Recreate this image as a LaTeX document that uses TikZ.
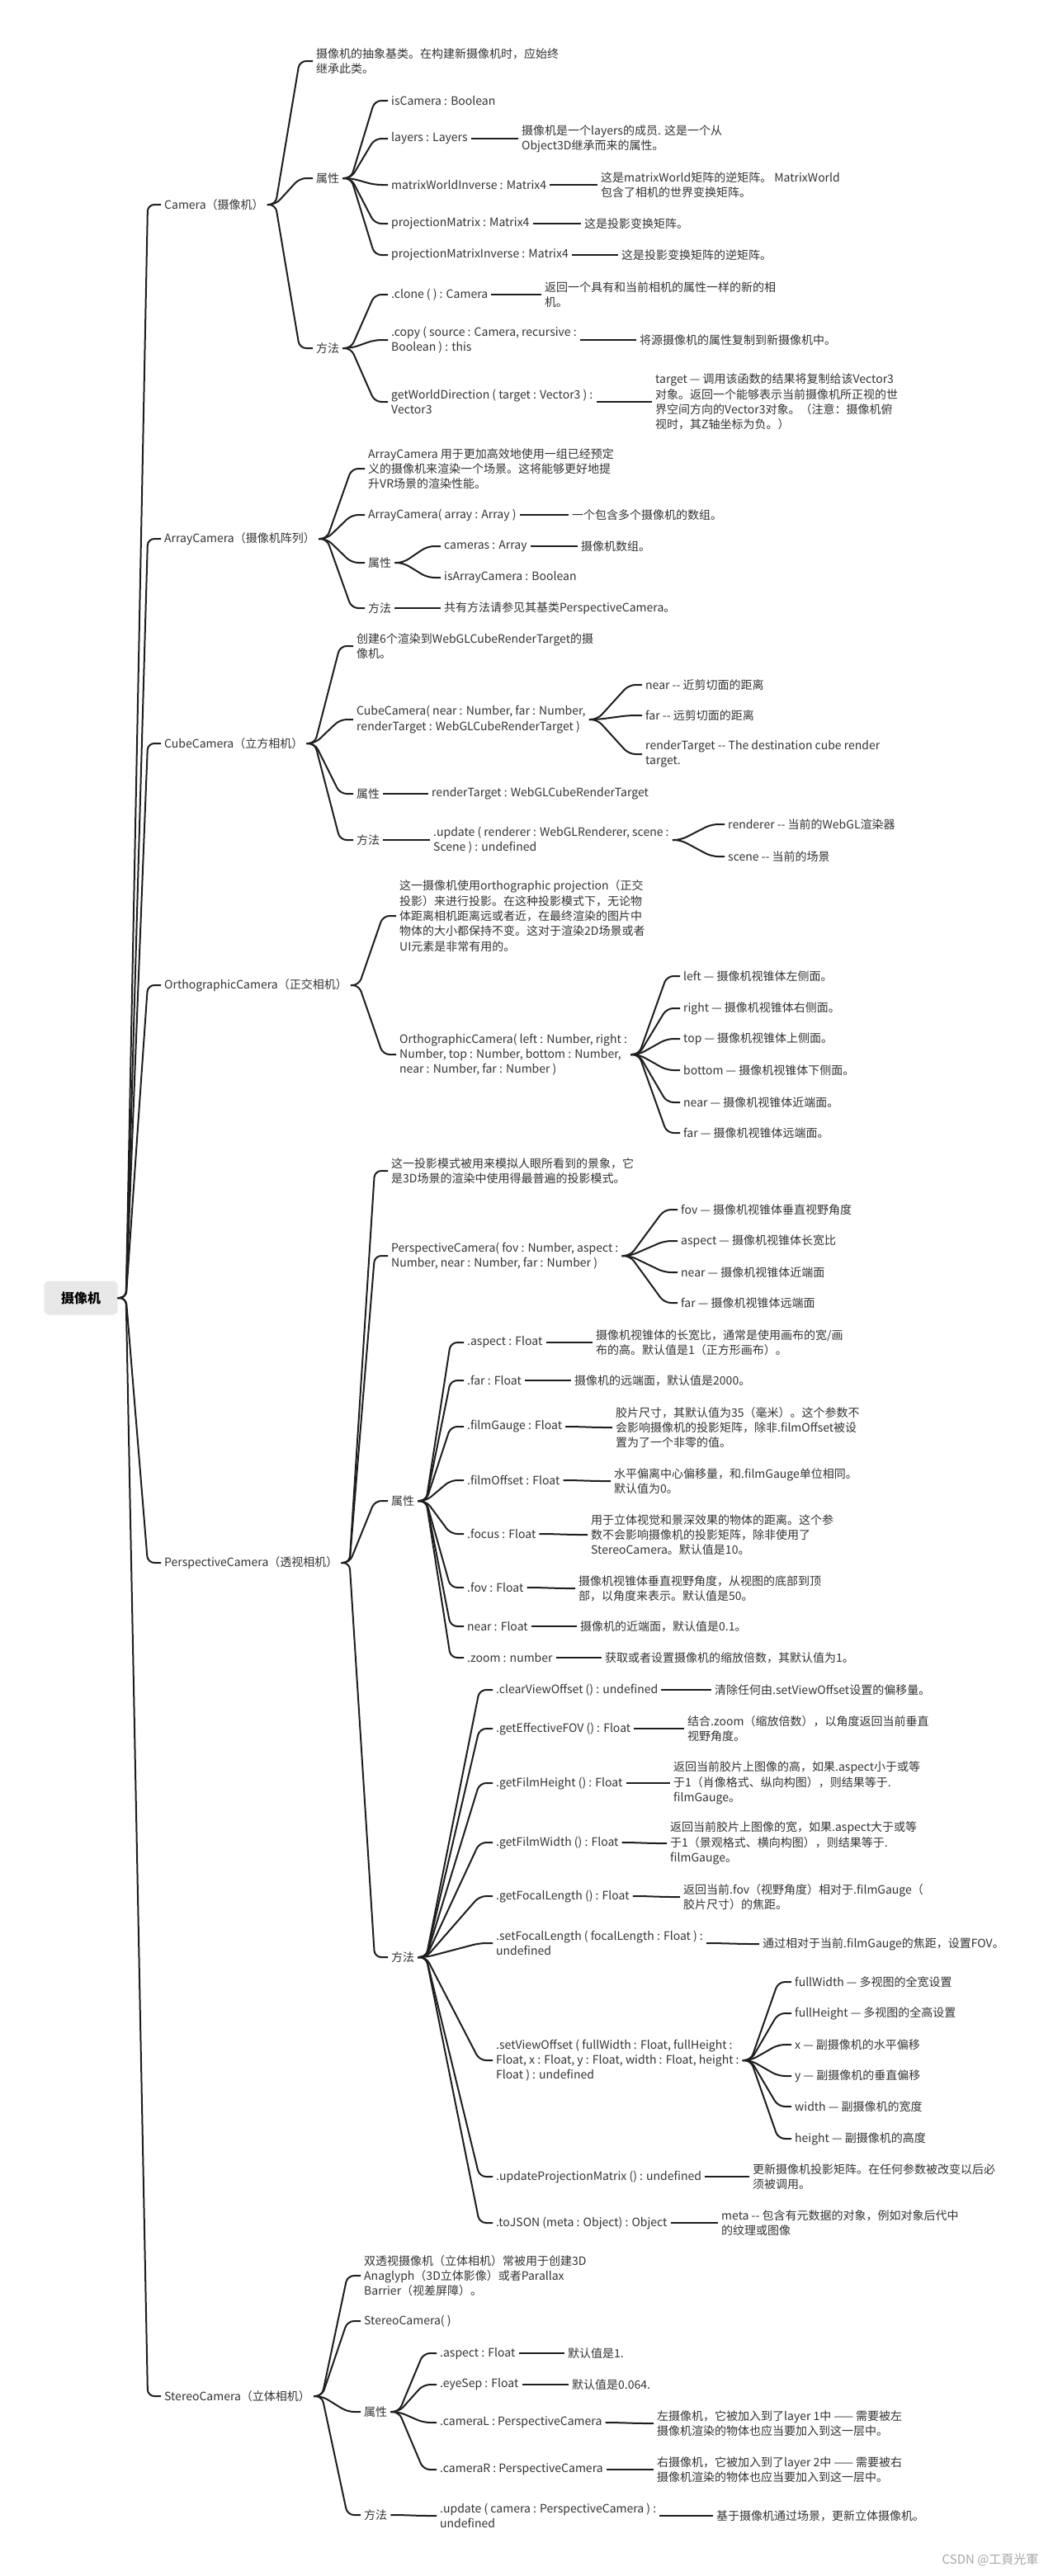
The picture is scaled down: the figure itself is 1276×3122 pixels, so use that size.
\documentclass[tikz,border=0pt]{standalone}
\usepackage{fontspec}
\setmainfont{Noto Sans CJK SC}
\usetikzlibrary{calc}
\definecolor{txt}{HTML}{333333}
\definecolor{ln}{HTML}{1E1E1E}
\tikzset{
 t/.style={anchor=west, xshift=-4pt, inner xsep=4pt, inner ysep=1pt, align=left, text=txt, font=\fontsize{14}{18.3}\selectfont},
 edge/.style={draw=ln, line width=2pt, rounded corners=8pt},
 rootbox/.style={fill=gray!18, rounded corners=6pt, minimum width=89pt, minimum height=41pt, font=\fontsize{16}{18}\selectfont\bfseries, text=black}
}
\newcommand\br[2]{\draw[edge] (#1.east) -- ++(10,0) -- ([xshift=-16pt]#2.west) -- (#2.west);}
\begin{document}
\begin{tikzpicture}[x=1pt,y=-1pt]
\useasboundingbox (0,0) rectangle (1276,3122);
\fill[white] (0,0) rectangle (1276,3122);
\node[rootbox] (root) at (98,1573) {摄像机};
% level 1
\node[t] (cam) at (199,248) {Camera（摄像机）};
\node[t] (arr) at (199,653) {ArrayCamera（摄像机阵列）};
\node[t] (cube) at (199,901) {CubeCamera（立方相机）};
\node[t] (orth) at (199,1194) {OrthographicCamera（正交相机）};
\node[t] (pers) at (199,1894) {PerspectiveCamera（透视相机）};
\node[t] (ster) at (199,2904) {StereoCamera（立体相机）};
\foreach \c in {cam,arr,cube,orth,pers,ster}{\br{root}{\c}}
% Camera
\node[t] (camd) at (383,74) {摄像机的抽象基类。在构建新摄像机时，应始终\\继承此类。};
\node[t] (camp) at (383,216) {属性};
\node[t] (camm) at (383,422) {方法};
\node[t] (isc) at (474,122) {isCamera : Boolean};
\node[t] (lay) at (474,168) {layers : Layers};
\node[t] (layd) at (632,168) {摄像机是一个layers的成员. 这是一个从\\Object3D继承而来的属性。};
\node[t] (mwi) at (474,224) {matrixWorldInverse : Matrix4};
\node[t] (mwid) at (728,224) {这是matrixWorld矩阵的逆矩阵。 MatrixWorld\\包含了相机的世界变换矩阵。};
\node[t] (pm) at (474,271) {projectionMatrix : Matrix4};
\node[t] (pmd) at (708,271) {这是投影变换矩阵。};
\node[t] (pmi) at (474,309) {projectionMatrixInverse : Matrix4};
\node[t] (pmid) at (753,309) {这是投影变换矩阵的逆矩阵。};
\node[t] (clo) at (474,357) {.clone ( ) : Camera};
\node[t] (clod) at (660,357) {返回一个具有和当前相机的属性一样的新的相\\机。};
\node[t] (cop) at (474,412) {.copy ( source : Camera, recursive :\\Boolean ) : this};
\node[t] (copd) at (775,412) {将源摄像机的属性复制到新摄像机中。};
\node[t] (gwd) at (474,487) {getWorldDirection ( target : Vector3 ) :\\Vector3};
\node[t] (gwdd) at (794,487) {target — 调用该函数的结果将复制给该Vector3\\对象。返回一个能够表示当前摄像机所正视的世\\界空间方向的Vector3对象。（注意：摄像机俯\\视时，其Z轴坐标为负。）};
\br{cam}{camd}\br{cam}{camp}\br{cam}{camm}
\br{camp}{isc}\br{camp}{lay}\br{camp}{mwi}\br{camp}{pm}\br{camp}{pmi}
\br{lay}{layd}\br{mwi}{mwid}\br{pm}{pmd}\br{pmi}{pmid}
\br{camm}{clo}\br{camm}{cop}\br{camm}{gwd}
\br{clo}{clod}\br{cop}{copd}\br{gwd}{gwdd}
% ArrayCamera
\node[t] (arrd) at (446,568) {ArrayCamera 用于更加高效地使用一组已经预定\\义的摄像机来渲染一个场景。这将能够更好地提\\升VR场景的渲染性能。};
\node[t] (arrc) at (446,624) {ArrayCamera( array : Array )};
\node[t] (arrcd) at (693,624) {一个包含多个摄像机的数组。};
\node[t] (arrp) at (446,682) {属性};
\node[t] (cams) at (538,662) {cameras : Array};
\node[t] (camsd) at (704,662) {摄像机数组。};
\node[t] (isa) at (538,700) {isArrayCamera : Boolean};
\node[t] (arrm) at (446,737) {方法};
\node[t] (arrmd) at (538,737) {共有方法请参见其基类PerspectiveCamera。};
\br{arr}{arrd}\br{arr}{arrc}\br{arr}{arrp}\br{arr}{arrm}
\br{arrc}{arrcd}\br{arrp}{cams}\br{arrp}{isa}\br{cams}{camsd}\br{arrm}{arrmd}
% CubeCamera
\node[t] (cubd) at (432,783) {创建6个渲染到WebGLCubeRenderTarget的摄\\像机。};
\node[t] (cubc) at (432,872) {CubeCamera( near : Number, far : Number,\\renderTarget : WebGLCubeRenderTarget )};
\node[t] (cn) at (782,830) {near -{}- 近剪切面的距离};
\node[t] (cf) at (782,867) {far -{}- 远剪切面的距离};
\node[t] (cr) at (782,914) {renderTarget -{}- The destination cube render\\target.};
\node[t] (cubp) at (432,962) {属性};
\node[t] (cubpr) at (523,962) {renderTarget : WebGLCubeRenderTarget};
\node[t] (cubm) at (432,1018) {方法};
\node[t] (cubu) at (525,1018) {.update ( renderer : WebGLRenderer, scene :\\Scene ) : undefined};
\node[t] (cur) at (882,999) {renderer -{}- 当前的WebGL渲染器};
\node[t] (cus) at (882,1038) {scene -{}- 当前的场景};
\br{cube}{cubd}\br{cube}{cubc}\br{cube}{cubp}\br{cube}{cubm}
\br{cubc}{cn}\br{cubc}{cf}\br{cubc}{cr}\br{cubp}{cubpr}\br{cubm}{cubu}
\br{cubu}{cur}\br{cubu}{cus}
% OrthographicCamera
\node[t] (ord) at (484,1110) {这一摄像机使用orthographic projection（正交\\投影）来进行投影。在这种投影模式下，无论物\\体距离相机距离远或者近，在最终渲染的图片中\\物体的大小都保持不变。这对于渲染2D场景或者\\UI元素是非常有用的。};
\node[t] (orc) at (484,1278) {OrthographicCamera( left : Number, right :\\Number, top : Number, bottom : Number,\\near : Number, far : Number )};
\node[t] (ol) at (828,1183) {left — 摄像机视锥体左侧面。};
\node[t] (orr) at (828,1222) {right — 摄像机视锥体右侧面。};
\node[t] (ot) at (828,1259) {top — 摄像机视锥体上侧面。};
\node[t] (ob) at (828,1297) {bottom — 摄像机视锥体下侧面。};
\node[t] (on) at (828,1336) {near — 摄像机视锥体近端面。};
\node[t] (of) at (828,1373) {far — 摄像机视锥体远端面。};
\br{orth}{ord}\br{orth}{orc}
\foreach \c in {ol,orr,ot,ob,on,of}{\br{orc}{\c}}
% PerspectiveCamera
\node[t] (ped) at (474,1419) {这一投影模式被用来模拟人眼所看到的景象，它\\是3D场景的渲染中使用得最普遍的投影模式。};
\node[t] (pec) at (474,1522) {PerspectiveCamera( fov : Number, aspect :\\Number, near : Number, far : Number )};
\node[t] (pf) at (825,1466) {fov — 摄像机视锥体垂直视野角度};
\node[t] (pa) at (825,1504) {aspect — 摄像机视锥体长宽比};
\node[t] (pn) at (825,1542) {near — 摄像机视锥体近端面};
\node[t] (pfa) at (825,1579) {far — 摄像机视锥体远端面};
\node[t] (pep) at (474,1819) {属性};
\node[t] (pasp) at (566,1627) {.aspect : Float};
\node[t] (paspd) at (722,1627) {摄像机视锥体的长宽比，通常是使用画布的宽/画\\布的高。默认值是1（正方形画布）。};
\node[t] (pfar) at (566,1673) {.far : Float};
\node[t] (pfard) at (696,1673) {摄像机的远端面，默认值是2000。};
\node[t] (pfg) at (566,1729) {.filmGauge : Float};
\node[t] (pfgd) at (746,1730) {胶片尺寸，其默认值为35（毫米）。这个参数不\\会影响摄像机的投影矩阵，除非.filmOffset被设\\置为了一个非零的值。};
\node[t] (pfo) at (566,1794) {.filmOffset : Float};
\node[t] (pfod) at (744,1795) {水平偏离中心偏移量，和.filmGauge单位相同。\\默认值为0。};
\node[t] (pfoc) at (566,1859) {.focus : Float};
\node[t] (pfocd) at (716,1860) {用于立体视觉和景深效果的物体的距离。这个参\\数不会影响摄像机的投影矩阵，除非使用了\\StereoCamera。默认值是10。};
\node[t] (pfov) at (566,1924) {.fov : Float};
\node[t] (pfovd) at (701,1925) {摄像机视锥体垂直视野角度，从视图的底部到顶\\部，以角度来表示。默认值是50。};
\node[t] (pnear) at (566,1971) {near : Float};
\node[t] (pneard) at (703,1971) {摄像机的近端面，默认值是0.1。};
\node[t] (pzoom) at (566,2009) {.zoom : number};
\node[t] (pzoomd) at (733,2009) {获取或者设置摄像机的缩放倍数，其默认值为1。};
\node[t] (pem) at (474,2372) {方法};
\node[t] (mcv) at (601,2048) {.clearViewOffset () : undefined};
\node[t] (mcvd) at (866,2048) {清除任何由.setViewOffset设置的偏移量。};
\node[t] (mef) at (601,2095) {.getEffectiveFOV () : Float};
\node[t] (mefd) at (833,2095) {结合.zoom（缩放倍数），以角度返回当前垂直\\视野角度。};
\node[t] (mfh) at (601,2161) {.getFilmHeight () : Float};
\node[t] (mfhd) at (816,2161) {返回当前胶片上图像的高，如果.aspect小于或等\\于1（肖像格式、纵向构图），则结果等于.\\filmGauge。};
\node[t] (mfw) at (601,2233) {.getFilmWidth () : Float};
\node[t] (mfwd) at (812,2234) {返回当前胶片上图像的宽，如果.aspect大于或等\\于1（景观格式、横向构图），则结果等于.\\filmGauge。};
\node[t] (mfl) at (601,2298) {.getFocalLength () : Float};
\node[t] (mfld) at (828,2299) {返回当前.fov（视野角度）相对于.filmGauge（\\胶片尺寸）的焦距。};
\node[t] (msf) at (601,2355) {.setFocalLength ( focalLength : Float ) :\\undefined};
\node[t] (msfd) at (924,2356) {通过相对于当前.filmGauge的焦距，设置FOV。};
\node[t] (msv) at (601,2497) {.setViewOffset ( fullWidth : Float, fullHeight :\\Float, x : Float, y : Float, width : Float, height :\\Float ) : undefined};
\node[t] (vfw) at (963,2402) {fullWidth — 多视图的全宽设置};
\node[t] (vfh) at (963,2440) {fullHeight — 多视图的全高设置};
\node[t] (vx) at (963,2478) {x — 副摄像机的水平偏移};
\node[t] (vy) at (963,2516) {y — 副摄像机的垂直偏移};
\node[t] (vw) at (963,2553) {width — 副摄像机的宽度};
\node[t] (vh) at (963,2592) {height — 副摄像机的高度};
\node[t] (mup) at (601,2638) {.updateProjectionMatrix () : undefined};
\node[t] (mupd) at (912,2638) {更新摄像机投影矩阵。在任何参数被改变以后必\\须被调用。};
\node[t] (mtj) at (601,2694) {.toJSON (meta : Object) : Object};
\node[t] (mtjd) at (874,2694) {meta -{}- 包含有元数据的对象，例如对象后代中\\的纹理或图像};
\br{pers}{ped}\br{pers}{pec}\br{pers}{pep}\br{pers}{pem}
\foreach \c in {pf,pa,pn,pfa}{\br{pec}{\c}}
\foreach \c/\d in {pasp/paspd,pfar/pfard,pfg/pfgd,pfo/pfod,pfoc/pfocd,pfov/pfovd,pnear/pneard,pzoom/pzoomd}{\br{pep}{\c}\br{\c}{\d}}
\foreach \c/\d in {mcv/mcvd,mef/mefd,mfh/mfhd,mfw/mfwd,mfl/mfld,msf/msfd,mup/mupd,mtj/mtjd}{\br{pem}{\c}\br{\c}{\d}}
\br{pem}{msv}
\foreach \c in {vfw,vfh,vx,vy,vw,vh}{\br{msv}{\c}}
% StereoCamera
\node[t] (sd) at (441,2758) {双透视摄像机（立体相机）常被用于创建3D\\Anaglyph（3D立体影像）或者Parallax\\Barrier（视差屏障）。};
\node[t] (sc) at (441,2813) {StereoCamera( )};
\node[t] (sp) at (441,2923) {属性};
\node[t] (sa) at (533,2852) {.aspect : Float};
\node[t] (sad) at (688,2852) {默认值是1.};
\node[t] (se) at (533,2890) {.eyeSep : Float};
\node[t] (sed) at (693,2890) {默认值是0.064.};
\node[t] (sl) at (533,2936) {.cameraL : PerspectiveCamera};
\node[t] (sld) at (796,2937) {左摄像机，它被加入到了layer 1中 —— 需要被左\\摄像机渲染的物体也应当要加入到这一层中。};
\node[t] (sr) at (533,2993) {.cameraR : PerspectiveCamera};
\node[t] (srd) at (796,2993) {右摄像机，它被加入到了layer 2中 —— 需要被右\\摄像机渲染的物体也应当要加入到这一层中。};
\node[t] (sm) at (441,3048) {方法};
\node[t] (su) at (533,3049) {.update ( camera : PerspectiveCamera ) :\\undefined};
\node[t] (sud) at (868,3049) {基于摄像机通过场景，更新立体摄像机。};
\br{ster}{sd}\br{ster}{sc}\br{ster}{sp}\br{ster}{sm}
\foreach \c/\d in {sa/sad,se/sed,sl/sld,sr/srd}{\br{sp}{\c}\br{\c}{\d}}
\br{sm}{su}\br{su}{sud}
\node[anchor=east, text=gray!70, font=\fontsize{15}{16}\selectfont] (wm) at (1262,3102) {CSDN @工頁光軍};
\end{tikzpicture}
\end{document}
